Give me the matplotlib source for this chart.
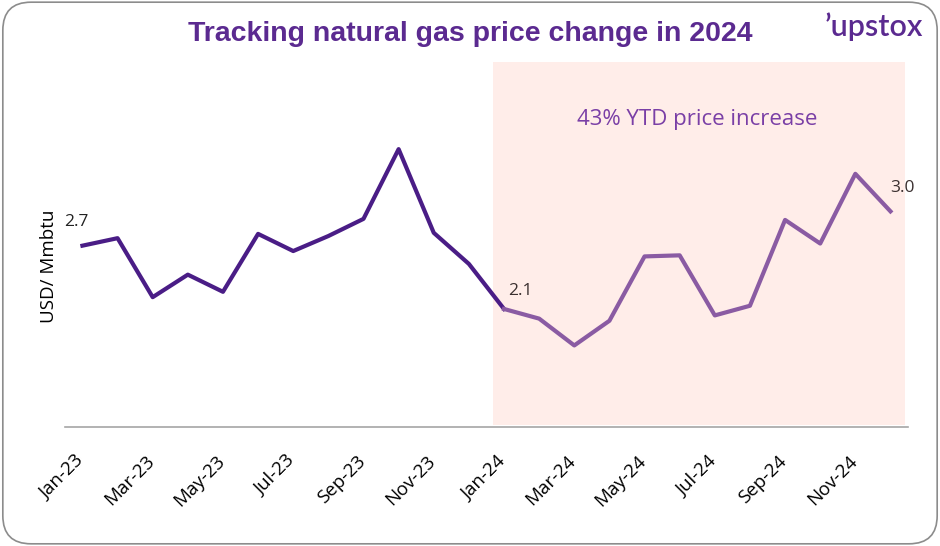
import numpy as np
import matplotlib.pyplot as plt
from matplotlib.patches import FancyBboxPatch

months = ['Jan-23', 'Feb-23', 'Mar-23', 'Apr-23', 'May-23', 'Jun-23',
          'Jul-23', 'Aug-23', 'Sep-23', 'Oct-23', 'Nov-23', 'Dec-23',
          'Jan-24', 'Feb-24', 'Mar-24', 'Apr-24', 'May-24', 'Jun-24',
          'Jul-24', 'Aug-24', 'Sep-24', 'Oct-24', 'Nov-24', 'Dec-24']
prices = [2.69, 2.76, 2.21, 2.42, 2.26, 2.80, 2.64, 2.78, 2.94, 3.59, 2.81, 2.52,
          2.10, 2.01, 1.76, 1.99, 2.59, 2.60, 2.04, 2.13, 2.93, 2.71, 3.36, 3.01]
labelled = {0: '2.7', 12: '2.1', 23: '3.0'}

dark = '#4a1d86'
light = '#8a5ba3'
title_col = '#5b2a90'

plt.rcParams['font.family'] = ['Open Sans', 'DejaVu Sans']

fig = plt.figure(figsize=(9.4, 5.46), dpi=100)
fig.patches.append(FancyBboxPatch((0.003, 0.004), 0.994, 0.992,
                                  boxstyle='round,pad=0,rounding_size=0.03',
                                  transform=fig.transFigure, fill=False,
                                  edgecolor='#8c8c8c', linewidth=1.2,
                                  mutation_aspect=940 / 546))
ax = fig.add_axes([0.069, 0.218, 0.897, 0.668])

x = np.arange(len(months))
ax.axvspan(11.7, 23.4, ymin=0.005, ymax=1, color='#ffede9', zorder=0, lw=0)
ax.plot(x[:13], prices[:13], color=dark, lw=3, zorder=3)
ax.plot(x[12:], prices[12:], color=light, lw=3, zorder=3)

# data labels
offsets = {0: (-13, 14), 12: (3, 10), 23: (0, 14)}
for i, txt in labelled.items():
    ax.annotate(txt, (x[i], prices[i]), xytext=offsets[i], textcoords='offset points',
                fontsize=12.5, color='#222222' if i == 0 else '#3b3030')

ax.text(17.5, 3.87, '43% YTD price increase', color='#7a3fa6', fontsize=16,
        ha='center', va='center')

ax.set_xlim(-0.5, 23.5)
ax.set_ylim(1.0, 4.4)
# labels sit slightly right of each month in the original
ax.set_xticks(x[::2] + 0.15)
ax.set_xticklabels(months[::2], rotation=45, ha='right', va='top', fontsize=13.5)
ax.tick_params(axis='x', length=0, pad=18)
ax.set_yticks([])
for s in ['top', 'right', 'left']:
    ax.spines[s].set_visible(False)
ax.spines['bottom'].set_color('#a6a6a6')
ax.spines['bottom'].set_linewidth(1.2)

fig.text(0.052, 0.513, 'USD/ Mmbtu', rotation=90, ha='center', va='center',
         fontsize=13.5)
fig.text(0.5, 0.938, 'Tracking natural gas price change in 2024', ha='center',
         va='center', fontsize=20.5, fontweight='bold', color=title_col,
         family=['Liberation Sans', 'DejaVu Sans'])
fig.text(0.93, 0.952, '\u2019upstox', ha='center', va='center', fontsize=22,
         fontweight='semibold', color=title_col, family=['Lato', 'DejaVu Sans'])

fig.savefig('out.png', dpi=100)
